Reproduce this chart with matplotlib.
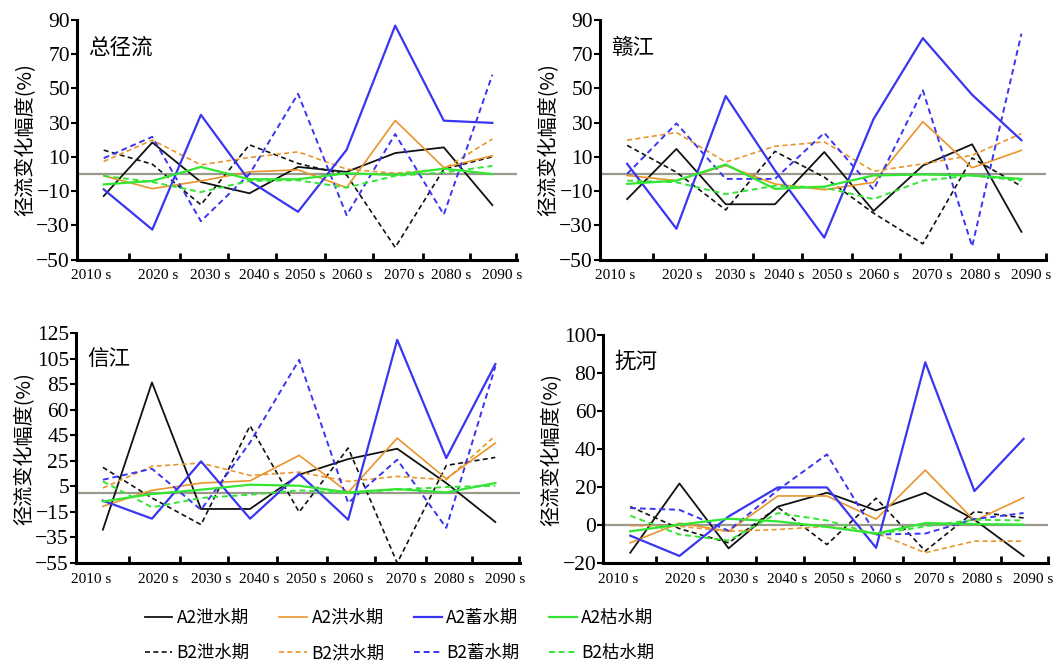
import matplotlib.pyplot as plt
import numpy as np

# === DONNEES ===
decades = ["2010 s", "2020 s", "2030 s", "2040 s", "2050 s", "2060 s", "2070 s", "2080 s", "2090 s"]
series_names = ["A2泄水期", "B2泄水期", "A2洪水期", "B2洪水期", "A2蓄水期", "B2蓄水期", "A2枯水期", "B2枯水期"]

# 总径流
total_a2_xie = [-12.8, 18.5, -4.6, -11.2, 4.2, 1.3, 12.3, 15.6, -18.1]
total_b2_xie = [14.0, 5.8, -17.9, 17.1, 6.2, -0.5, -42.8, 2.9, 10.1]
total_a2_hong = [-1.0, -8.5, -4.0, 1.3, 2.5, -7.9, 31.3, 3.8, 10.7]
total_b2_hong = [7.4, 19.9, 5.4, 9.7, 13.0, 2.9, 0.5, 3.0, 20.5]
total_a2_xu = [-8.9, -32.4, 34.6, -4.0, -22.0, 14.2, 86.7, 31.2, 29.9]
total_b2_xu = [9.3, 21.8, -27.5, 0.0, 46.9, -24.0, 23.4, -23.6, 58.0]
total_a2_ku = [-6.0, -4.0, 4.2, -3.0, -3.0, 0.5, -0.5, 3.2, 0.0]
total_b2_ku = [-1.0, -4.6, -10.5, -4.0, -3.6, -7.9, -1.0, 0.9, 4.8]

# 赣江
gan_a2_xie = [-14.6, 14.7, -17.6, -17.6, 12.9, -21.5, 5.0, 17.4, -33.7]
gan_b2_xie = [16.8, 1.1, -20.9, 13.3, -1.8, -22.8, -40.7, 9.4, -7.1]
gan_a2_hong = [-0.8, -3.8, 5.0, -5.8, -9.1, -4.8, 30.6, 3.7, 13.9]
gan_b2_hong = [19.8, 24.3, 7.0, 16.3, 18.8, 1.7, 6.0, 11.0, 23.7]
gan_a2_xu = [6.0, -31.9, 45.6, 2.1, -37.1, 32.2, 79.4, 46.3, 19.8]
gan_b2_xu = [0.1, 29.6, -2.8, -2.8, 24.1, -9.1, 48.9, -42.2, 82.0]
gan_a2_ku = [-5.7, -3.8, 5.6, -8.6, -7.3, -0.8, -0.2, -0.8, -2.8]
gan_b2_ku = [-3.8, -4.8, -11.7, -6.8, -7.8, -14.6, -3.8, -0.8, -3.8]

# 信江
xin_a2_xie = [-28.9, 86.4, -12.7, -12.7, 14.1, 26.4, 34.5, 7.6, -22.9]
xin_b2_xie = [19.9, -4.1, -25.0, 52.5, -15.1, 35.0, -55.0, 21.4, 27.7]
xin_a2_hong = [-10.6, 1.9, 7.6, 9.4, 29.3, 0.3, 42.8, 11.0, 38.9]
xin_b2_hong = [3.7, 20.7, 23.3, 13.6, 16.2, 8.9, 12.8, 10.2, 44.7]
xin_a2_xu = [-6.2, -20.3, 24.6, -20.3, 14.9, -21.1, 119.8, 27.2, 100.8]
xin_b2_xu = [10.2, 18.8, -13.3, 39.4, 104.1, -8.0, 25.9, -27.5, 98.9]
xin_a2_ku = [-6.8, -1.0, 2.4, 6.3, 5.5, 0.3, 2.9, 0.3, 7.6]
xin_b2_ku = [8.9, -11.4, -4.1, -1.5, 1.9, -0.2, 2.4, 4.5, 5.5]

# 抚河
fu_a2_xie = [-14.6, 21.9, -12.3, 9.7, 17.0, 7.7, 17.0, 2.8, -16.3]
fu_b2_xie = [9.7, -1.9, -9.4, 9.4, -10.3, 14.1, -13.7, 7.1, 3.7]
fu_a2_hong = [-9.4, 1.0, -3.3, 15.3, 15.3, 3.1, 28.9, 2.3, 14.4]
fu_b2_hong = [-0.3, -0.7, -3.3, -2.4, -0.7, -4.2, -14.6, -8.5, -8.5]
fu_a2_xu = [-5.6, -16.3, 4.5, 19.8, 19.8, -12.0, 85.7, 17.9, 45.4]
fu_b2_xu = [8.9, 8.0, -3.0, 18.4, 37.2, -5.0, -4.5, 3.1, 6.3]
fu_a2_ku = [-3.3, 0.2, 3.3, 1.9, -1.0, -4.5, 1.0, 0.5, 0.2]
fu_b2_ku = [4.9, -5.0, -8.2, 6.3, 2.4, -5.0, -0.7, 2.8, 2.4]

yticks_gan = [90, 70, 50, 30, 10, -10, -30, -50]
yticks_xin = [125, 105, 85, 65, 45, 25, 5, -15, -35, -55]
yticklabels_xin = ["125", "105", "85", "60", "45", "25", "5", "−15", "−35", "−55"]
yticks_fu = [100, 80, 60, 40, 20, 0, -20]

# === STYLE ===
colors = ["#111111", "#111111", "#e8952c", "#e8952c", "#3a35f0", "#3a35f0", "#33e633", "#33e633"]
styles = ["-", (0, (3, 2)), "-", (0, (3, 2)), "-", (0, (3, 2)), "-", (0, (3, 2))]
widths = [1.3, 1.2, 1.2, 1.2, 1.6, 1.4, 1.6, 1.4]
cjk = ["Noto Sans CJK SC", "DejaVu Sans"]
serif = "Liberation Serif"

x = np.arange(len(decades))
label_pos = [-0.25, 1.12, 2.2, 3.19, 4.15, 5.11, 6.18, 7.16, 8.2]
mark_pos = [0.53, 1.57, 2.56, 3.54, 4.56, 5.54, 6.58, 7.53, 8.49]

fig = plt.figure(figsize=(10.62, 6.66), dpi=100)
panels = [
    ("总径流", [0.0725, 0.610, 0.414, 0.360], (-50, 90), yticks_gan, None,
     [total_a2_xie, total_b2_xie, total_a2_hong, total_b2_hong, total_a2_xu, total_b2_xu, total_a2_ku, total_b2_ku]),
    ("赣江", [0.565, 0.610, 0.420, 0.360], (-50, 90), yticks_gan, None,
     [gan_a2_xie, gan_b2_xie, gan_a2_hong, gan_b2_hong, gan_a2_xu, gan_b2_xu, gan_a2_ku, gan_b2_ku]),
    ("信江", [0.0715, 0.1547, 0.418, 0.345], (-55, 125), yticks_xin, yticklabels_xin,
     [xin_a2_xie, xin_b2_xie, xin_a2_hong, xin_b2_hong, xin_a2_xu, xin_b2_xu, xin_a2_ku, xin_b2_ku]),
    ("抚河", [0.568, 0.1547, 0.419, 0.342], (-20, 100), yticks_fu, None,
     [fu_a2_xie, fu_b2_xie, fu_a2_hong, fu_b2_hong, fu_a2_xu, fu_b2_xu, fu_a2_ku, fu_b2_ku]),
]

handles = []
for title, rect, ylim, yt, ytl, data in panels:
    ax = fig.add_axes(rect)
    ax.axhline(0, color="#9a9a8c", lw=1.6, zorder=1)
    hs = []
    for vals, c, ls, lw, name in zip(data, colors, styles, widths, series_names):
        h, = ax.plot(x, vals, color=c, linestyle=ls, lw=lw, label=name, zorder=2)
        hs.append(h)
    handles = hs
    ax.set_xlim(-0.55, 8.5)
    ax.set_ylim(*ylim)
    ax.set_yticks(yt)
    if ytl is not None:
        ax.set_yticklabels(ytl)
    ax.set_xticks(mark_pos)
    ax.set_xticklabels([])
    ax.set_xticks(label_pos, minor=True)
    ax.set_xticklabels(decades, minor=True)
    ax.tick_params(axis="x", which="major", direction="in", length=5, width=2)
    ax.tick_params(axis="x", which="minor", length=0, pad=7, labelsize=11)
    ax.tick_params(axis="y", direction="out", length=4, width=1.5, labelsize=15.5, pad=1)
    for lab in ax.get_xticklabels(minor=True) + ax.get_yticklabels():
        lab.set_family(serif)
    for s in ["top", "right"]:
        ax.spines[s].set_visible(False)
    for s in ["left", "bottom"]:
        ax.spines[s].set_linewidth(2.2)
    ax.text(0.025, 0.93, title, transform=ax.transAxes, family=cjk, fontsize=15.5, va="top")
    ax.set_ylabel("径流变化幅度(%)", family=cjk, fontsize=14.5, labelpad=0)

leg = fig.legend(handles=handles, loc="center", bbox_to_anchor=(0.376, 0.046), ncol=4,
                 frameon=False, prop={"family": cjk, "size": 12.5}, handlelength=1.6,
                 handletextpad=0.25, columnspacing=1.7, labelspacing=1.0)

plt.savefig("out.png", dpi=100)
plt.close()
